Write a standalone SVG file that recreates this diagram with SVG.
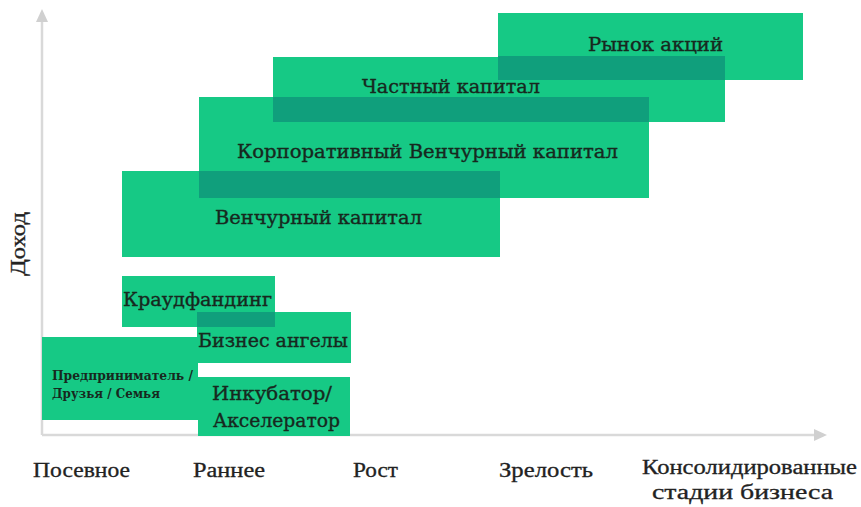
<svg xmlns="http://www.w3.org/2000/svg" width="861" height="507" viewBox="0 0 861 507">
<style>
.box{fill:#16c985}
.ov{fill:#109f7c}
.lbl{font-family:"DejaVu Serif","Liberation Serif",serif;font-size:18px;fill:#17281e;stroke:#17281e;stroke-width:0.35;text-anchor:middle}
.sm{font-family:"DejaVu Serif Condensed","DejaVu Serif",serif;font-size:12.5px;font-weight:bold;fill:#17281e}
.ax{font-family:"Liberation Serif","DejaVu Serif",serif;font-size:20px;fill:#222;stroke:#222;stroke-width:0.3}
.axl{stroke:#d9d9d9;stroke-width:2.5;fill:none}
.axh{fill:#d0d0d0}
</style>
<rect width="861" height="507" fill="#ffffff"/>
<g id="axes">
  <line class="axl" x1="42" y1="20" x2="42" y2="435"/>
  <polygon class="axh" points="42,9 36,22 48,22"/>
  <line class="axl" x1="42" y1="435" x2="815" y2="435"/>
  <polygon class="axh" points="827,435 814,429 814,441"/>
</g>
<g id="n-entrepreneur">
  <rect class="box" x="42" y="337" width="156" height="83"/>
  <text class="sm" x="52" y="380" textLength="141" lengthAdjust="spacingAndGlyphs">Предприниматель /</text>
  <text class="sm" x="52" y="398" textLength="108" lengthAdjust="spacingAndGlyphs">Друзья / Семья</text>
</g>
<g id="n-incubator">
  <rect class="box" x="198" y="377" width="152" height="59"/>
  <text class="lbl" x="272" y="400" textLength="120" lengthAdjust="spacingAndGlyphs">Инкубатор/</text>
  <text class="lbl" x="276.5" y="427" textLength="127" lengthAdjust="spacingAndGlyphs">Акселератор</text>
</g>
<g id="n-crowdfunding">
  <rect class="box" x="122" y="276" width="153" height="51"/>
  <text class="lbl" x="197.5" y="306" textLength="149" lengthAdjust="spacingAndGlyphs">Краудфандинг</text>
</g>
<g id="n-angels">
  <rect class="box" x="197" y="312" width="154" height="51"/>
  <rect class="ov" x="197" y="312" width="78" height="15"/>
  <text class="lbl" x="273" y="347" textLength="150" lengthAdjust="spacingAndGlyphs">Бизнес ангелы</text>
</g>
<g id="n-vc">
  <rect class="box" x="122" y="171" width="378" height="86"/>
  <text class="lbl" x="318.5" y="224" textLength="207" lengthAdjust="spacingAndGlyphs">Венчурный капитал</text>
</g>
<g id="n-cvc">
  <rect class="box" x="199" y="97" width="450" height="101"/>
  <rect class="ov" x="199" y="171" width="301" height="27"/>
  <text class="lbl" x="427.5" y="158" textLength="381" lengthAdjust="spacingAndGlyphs">Корпоративный Венчурный капитал</text>
</g>
<g id="n-pe">
  <rect class="box" x="273" y="57" width="452" height="65"/>
  <rect class="ov" x="273" y="97" width="376" height="25"/>
  <text class="lbl" x="451" y="93" textLength="178" lengthAdjust="spacingAndGlyphs">Частный капитал</text>
</g>
<g id="n-stock">
  <rect class="box" x="498" y="13" width="305" height="67"/>
  <rect class="ov" x="498" y="56" width="227" height="24"/>
  <text class="lbl" x="655.5" y="51" textLength="135" lengthAdjust="spacingAndGlyphs">Рынок акций</text>
</g>
<g id="axis-labels">
  <text class="ax" transform="translate(25,244) rotate(-90)" text-anchor="middle" font-size="17" textLength="64" lengthAdjust="spacingAndGlyphs">Доход</text>
  <text class="ax" x="33" y="477" textLength="97" lengthAdjust="spacingAndGlyphs">Посевное</text>
  <text class="ax" x="193" y="477" textLength="72" lengthAdjust="spacingAndGlyphs">Раннее</text>
  <text class="ax" x="353" y="477" textLength="45" lengthAdjust="spacingAndGlyphs">Рост</text>
  <text class="ax" x="499" y="477" textLength="94" lengthAdjust="spacingAndGlyphs">Зрелость</text>
  <text class="ax" x="642" y="474" textLength="215" lengthAdjust="spacingAndGlyphs">Консолидированные</text>
  <text class="ax" x="652" y="499" textLength="181" lengthAdjust="spacingAndGlyphs">стадии бизнеса</text>
</g>
</svg>
